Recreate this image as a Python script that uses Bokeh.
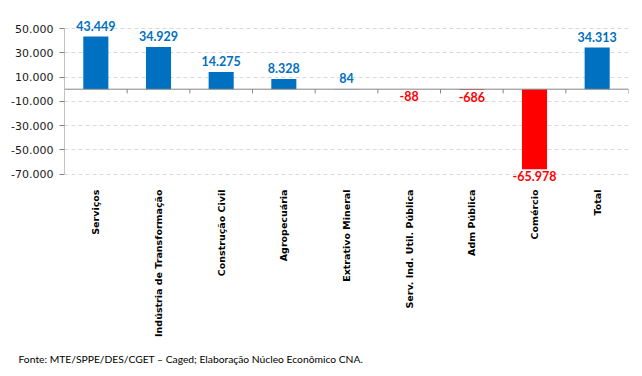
import math
from bokeh.plotting import figure
from bokeh.models import FixedTicker, Range1d, Title, ColumnDataSource
from bokeh.core.properties import value
from bokeh.embed import file_html
from bokeh.resources import INLINE

categories = ["Serviços", "Indústria de Transformação", "Construção Civil", "Agropecuária",
              "Extrativo Mineral", "Serv. Ind. Util. Pública", "Adm Pública", "Comércio", "Total"]
values = [43449, 34929, 14275, 8328, 84, -88, -686, -65978, 34313]
value_labels = ["43.449", "34.929", "14.275", "8.328", "84", "-88", "-686", "-65.978", "34.313"]
y_ticks = [-70000, -50000, -30000, -10000, 10000, 30000, 50000]
y_tick_labels = ["-70.000", "-50.000", "-30.000", "-10.000", "10.000", "30.000", "50.000"]
source_note = "Fonte: MTE/SPPE/DES/CGET – Caged; Elaboração Núcleo Econômico CNA."

BLUE = "#0070C0"
RED = "#FF0000"
AXIS = "#868686"

idx = list(range(len(categories)))
colors = [BLUE if v >= 0 else RED for v in values]

pos = ColumnDataSource(dict(x=[i for i, v in zip(idx, values) if v >= 0],
                            y=[v for v in values if v >= 0],
                            t=[l for l, v in zip(value_labels, values) if v >= 0]))
neg = ColumnDataSource(dict(x=[i for i, v in zip(idx, values) if v < 0],
                            y=[v for v in values if v < 0],
                            t=[l for l, v in zip(value_labels, values) if v < 0]))

p = figure(width=642, height=376, output_backend="svg", toolbar_location=None,
           x_range=Range1d(-0.5, len(categories) - 0.5),
           y_range=Range1d(-77000, 60000),
           min_border_left=64, min_border_right=14, min_border_top=16, min_border_bottom=194)
p.outline_line_color = None
p.background_fill_color = "white"

# grid
p.xgrid.visible = False
p.ygrid.ticker = FixedTicker(ticks=y_ticks)
p.ygrid.grid_line_color = "#D9D9D9"
p.ygrid.grid_line_dash = "4 3"

# y axis
p.yaxis.ticker = FixedTicker(ticks=y_ticks)
p.yaxis.major_label_overrides = {t: l for t, l in zip(y_ticks, y_tick_labels)}
p.yaxis.axis_line_color = None
p.yaxis.major_tick_line_color = AXIS
p.yaxis.major_tick_out = 5
p.yaxis.major_tick_in = 0
p.yaxis.minor_tick_line_color = None
p.yaxis.major_label_text_font = "DejaVu Sans"
p.yaxis.major_label_text_font_size = "11px"
p.yaxis.major_label_text_color = "#1a1a1a"
p.yaxis.major_label_standoff = 6

# x axis (category labels)
p.xaxis.ticker = FixedTicker(ticks=idx)
p.xaxis.major_label_overrides = {i: c for i, c in zip(idx, categories)}
p.xaxis.major_label_orientation = math.pi / 2
p.xaxis.axis_line_color = None
p.xaxis.major_tick_line_color = None
p.xaxis.minor_tick_line_color = None
p.xaxis.major_label_text_font = "DejaVu Sans"
p.xaxis.major_label_text_font_style = "bold"
p.xaxis.major_label_text_font_size = "9.5px"
p.xaxis.major_label_text_color = "black"
p.xaxis.major_label_standoff = 1

# y axis line from lowest to highest tick
p.segment(x0=[-0.5], y0=[min(y_ticks)], x1=[-0.5], y1=[max(y_ticks)], line_color=AXIS, line_width=1)

# bars
p.vbar(x=idx, top=values, bottom=0, width=0.4, fill_color=colors, line_color=None)

# zero line with category boundary ticks
p.segment(x0=[-0.5], y0=[0], x1=[len(categories) - 0.5], y1=[0], line_color=AXIS, line_width=1)
bounds = [i + 0.5 for i in idx]
p.segment(x0=bounds, y0=[0] * len(bounds), x1=bounds, y1=[-3500] * len(bounds),
          line_color=AXIS, line_width=1)

# value labels
p.text(x="x", y="y", text="t", source=pos, text_align="center", text_baseline="bottom",
       y_offset=-6, text_color=BLUE, text_font=value("Lato"), text_font_style="bold",
       text_font_size="12.5px")
p.text(x="x", y="y", text="t", source=neg, text_align="center", text_baseline="top",
       y_offset=2, text_color=RED, text_font=value("Lato"), text_font_style="bold",
       text_font_size="12.5px")

# source note
note = Title(text=source_note, align="left", offset=-46, standoff=23,
             text_font="Lato", text_font_size="10.3px", text_font_style="normal",
             text_color="black")
p.add_layout(note, "below")

open("out.html", "w").write(file_html(p, INLINE))
